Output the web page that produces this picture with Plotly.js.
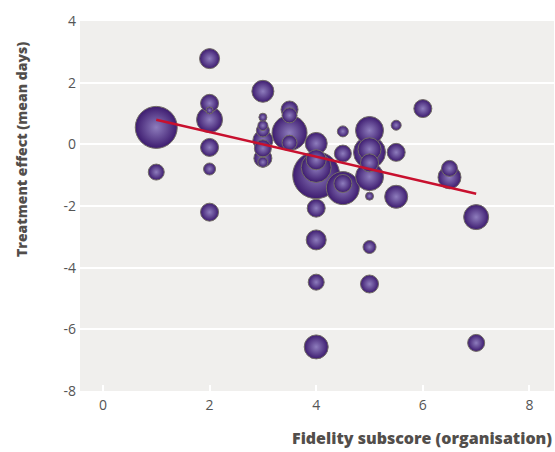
<!DOCTYPE html>
<html>
<head>
<meta charset="utf-8">
<script src="https://cdn.plot.ly/plotly-3.0.1.min.js"></script>
<style>html,body{margin:0;padding:0;background:#fff;}#chart{width:555px;height:452px;}</style>
</head>
<body>
<div id="chart"></div>
<script>
// Fidelity subscore (organisation) per study
const fidelity = [1, 1, 2, 2, 2, 2, 2, 2, 2, 3, 3, 3, 3, 3, 3, 3, 3, 3.5, 3.5, 3.5, 3.5,
  4, 4, 4, 4, 4, 4, 4, 4, 4.5, 4.5, 4.5, 4.5, 5, 5, 5, 5, 5, 5, 5, 5, 5.5, 5.5, 5.5, 6, 6.5, 6.5, 7, 7];
// Treatment effect (mean days)
const effect = [0.55, -0.9, 2.78, 1.33, 0.8, 1.1, -0.1, -0.8, -2.2, 1.72, 0.88, 0.61, 0.45, 0.13, -0.13, -0.45, -0.58,
  1.13, 0.94, 0.37, 0.05, 0.03, -0.5, -0.75, -1.0, -2.07, -3.1, -4.47, -6.57, 0.42, -0.3, -1.27, -1.42,
  0.45, -0.16, -0.26, -0.6, -1.05, -1.68, -3.33, -4.53, 0.62, -0.26, -1.7, 1.16, -0.78, -1.07, -2.36, -6.44];
// Study weight (bubble size)
const weight = [42, 16, 20, 18, 26, 7, 18, 12, 18, 22, 8, 10, 13, 20, 17, 18, 10,
  17, 15, 35, 15, 22, 20, 30, 47, 18, 20, 16, 24, 11, 17, 18, 33,
  28, 23, 32, 18, 28, 8, 13, 18, 10, 18, 23, 18, 16, 23, 25, 17];
// Fitted regression line
const fitX = [1, 7];
const fitY = [0.8, -1.6];
const xTicks = [0, 2, 4, 6, 8];
const yTicks = [-8, -6, -4, -2, 0, 2, 4];

// draw larger bubbles first so small ones sit on top
const order = weight.map((w, i) => i).sort((a, b) => weight[b] - weight[a]);
const bx = order.map(i => fidelity[i]);
const by = order.map(i => effect[i]);
const bs = order.map(i => weight[i]);

const traces = [
  {
    type: 'scatter', mode: 'markers', x: bx, y: by,
    marker: {
      size: bs, sizemode: 'diameter', sizeref: 1, opacity: 1,
      color: '#3d1b6f',
      gradient: {type: 'radial', color: '#8e7dbd'},
      line: {color: '#726c66', width: 1}
    },
    hoverinfo: 'skip', showlegend: false
  },
  {
    type: 'scatter', mode: 'lines', x: fitX, y: fitY,
    line: {color: '#c8102e', width: 2.5},
    hoverinfo: 'skip', showlegend: false
  }
];

const layout = {
  width: 555, height: 452,
  margin: {l: 80, r: 1, t: 21, b: 61},
  paper_bgcolor: '#ffffff',
  plot_bgcolor: '#f0efed',
  showlegend: false,
  font: {family: 'Open Sans, sans-serif', size: 14, color: '#555'},
  xaxis: {
    range: [-0.43, 8.46], tickvals: xTicks, ticktext: xTicks.map(String),
    showgrid: false, zeroline: false, showline: false,
    ticks: 'inside', ticklen: 6, tickwidth: 2, tickcolor: '#ffffff',
    ticklabelstandoff: 4,
    tickfont: {family: 'Open Sans, sans-serif', size: 14, color: '#555'},
    fixedrange: true
  },
  yaxis: {
    range: [-8, 4], tickvals: yTicks, ticktext: yTicks.map(String),
    showgrid: true, gridcolor: '#ffffff', gridwidth: 2,
    zeroline: false, showline: false, ticks: '',
    ticklabelstandoff: 3,
    tickfont: {family: 'Open Sans, sans-serif', size: 14, color: '#555'},
    fixedrange: true
  },
  annotations: [
    {
      text: 'Treatment effect (mean days)', xref: 'paper', yref: 'paper',
      x: -0.122, y: 0.652, xanchor: 'center', yanchor: 'middle', textangle: -90,
      showarrow: false,
      font: {family: 'Open Sans, sans-serif', size: 14, color: '#524e4b', weight: 800}
    },
    {
      text: 'Fidelity subscore (organisation)', xref: 'paper', yref: 'paper',
      x: 1.0, y: -0.162, xanchor: 'right', yanchor: 'bottom',
      showarrow: false,
      font: {family: 'Open Sans, sans-serif', size: 16, color: '#524e4b', weight: 800}
    }
  ]
};

Plotly.newPlot('chart', traces, layout, {displayModeBar: false, staticPlot: true});
</script>
</body>
</html>
